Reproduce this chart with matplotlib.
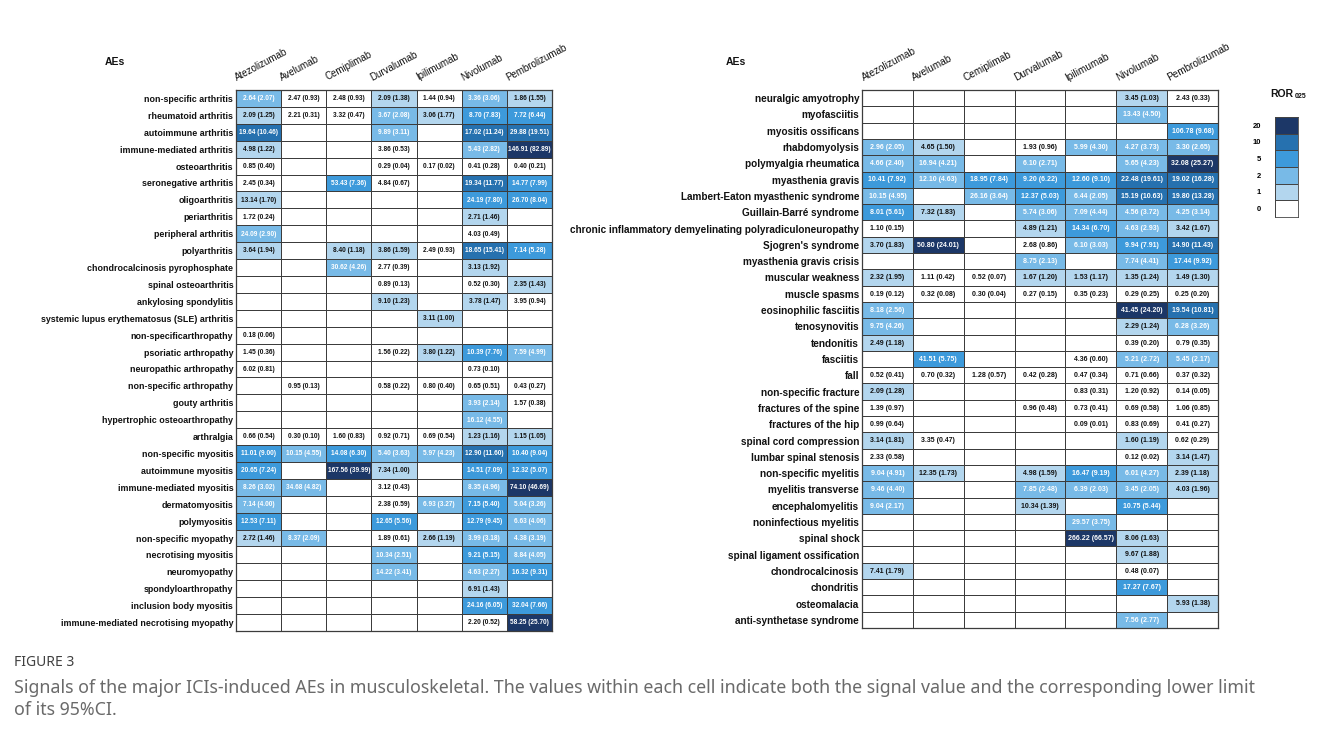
import numpy as np
import matplotlib
matplotlib.use("Agg")
import matplotlib.pyplot as plt
from matplotlib.colors import ListedColormap, BoundaryNorm

plt.rcParams['font.family'] = ['Liberation Sans', 'DejaVu Sans']

N = np.nan

drugs = ['Atezolizumab', 'Avelumab', 'Cemiplimab', 'Durvalumab',
         'Ipilimumab', 'Nivolumab', 'Pembrolizumab']

# ---- left panel: arthritis / myositis ----
left_aes = [
    'non-specific arthritis', 'rheumatoid arthritis', 'autoimmune arthritis',
    'immune-mediated arthritis', 'osteoarthritis', 'seronegative arthritis',
    'oligoarthritis', 'periarthritis', 'peripheral arthritis', 'polyarthritis',
    'chondrocalcinosis pyrophosphate', 'spinal osteoarthritis',
    'ankylosing spondylitis', 'systemic lupus erythematosus (SLE) arthritis',
    'non-specificarthropathy', 'psoriatic arthropathy', 'neuropathic arthropathy',
    'non-specific arthropathy', 'gouty arthritis', 'hypertrophic osteoarthropathy',
    'arthralgia', 'non-specific myositis', 'autoimmune myositis',
    'immune-mediated myositis', 'dermatomyositis', 'polymyositis',
    'non-specific myopathy', 'necrotising myositis', 'neuromyopathy',
    'spondyloarthropathy', 'inclusion body myositis',
    'immune-mediated necrotising myopathy',
]

left_ror = [
    [2.64, 2.47, 2.48, 2.09, 1.44, 3.36, 1.86],
    [2.09, 2.21, 3.32, 3.67, 3.06, 8.70, 7.72],
    [19.64, N, N, 9.89, N, 17.02, 29.88],
    [4.98, N, N, 3.86, N, 5.43, 146.91],
    [0.85, N, N, 0.29, 0.17, 0.41, 0.40],
    [2.45, N, 53.43, 4.84, N, 19.34, 14.77],
    [13.14, N, N, N, N, 24.19, 26.70],
    [1.72, N, N, N, N, 2.71, N],
    [24.09, N, N, N, N, 4.03, N],
    [3.64, N, 8.40, 3.86, 2.49, 18.65, 7.14],
    [N, N, 30.62, 2.77, N, 3.13, N],
    [N, N, N, 0.89, N, 0.52, 2.35],
    [N, N, N, 9.10, N, 3.78, 3.95],
    [N, N, N, N, 3.11, N, N],
    [0.18, N, N, N, N, N, N],
    [1.45, N, N, 1.56, 3.80, 10.39, 7.59],
    [6.02, N, N, N, N, 0.73, N],
    [N, 0.95, N, 0.58, 0.80, 0.65, 0.43],
    [N, N, N, N, N, 3.93, 1.57],
    [N, N, N, N, N, 16.12, N],
    [0.66, 0.30, 1.60, 0.92, 0.69, 1.23, 1.15],
    [11.01, 10.15, 14.08, 5.40, 5.97, 12.90, 10.40],
    [20.65, N, 167.56, 7.34, N, 14.51, 12.32],
    [8.26, 34.68, N, 3.12, N, 8.35, 74.10],
    [7.14, N, N, 2.38, 6.93, 7.15, 5.04],
    [12.53, N, N, 12.65, N, 12.79, 6.63],
    [2.72, 8.37, N, 1.89, 2.66, 3.99, 4.38],
    [N, N, N, 10.34, N, 9.21, 8.84],
    [N, N, N, 14.22, N, 4.63, 16.32],
    [N, N, N, N, N, 6.91, N],
    [N, N, N, N, N, 24.16, 32.04],
    [N, N, N, N, N, 2.20, 58.25],
]

left_low = [
    [2.07, 0.93, 0.93, 1.38, 0.94, 3.06, 1.55],
    [1.25, 0.31, 0.47, 2.08, 1.77, 7.83, 6.44],
    [10.46, N, N, 3.11, N, 11.24, 19.51],
    [1.22, N, N, 0.53, N, 2.82, 82.89],
    [0.40, N, N, 0.04, 0.02, 0.28, 0.21],
    [0.34, N, 7.36, 0.67, N, 11.77, 7.99],
    [1.70, N, N, N, N, 7.80, 8.04],
    [0.24, N, N, N, N, 1.46, N],
    [2.90, N, N, N, N, 0.49, N],
    [1.94, N, 1.18, 1.59, 0.93, 15.41, 5.28],
    [N, N, 4.26, 0.39, N, 1.92, N],
    [N, N, N, 0.13, N, 0.30, 1.43],
    [N, N, N, 1.23, N, 1.47, 0.94],
    [N, N, N, N, 1.00, N, N],
    [0.06, N, N, N, N, N, N],
    [0.36, N, N, 0.22, 1.22, 7.76, 4.99],
    [0.81, N, N, N, N, 0.10, N],
    [N, 0.13, N, 0.22, 0.40, 0.51, 0.27],
    [N, N, N, N, N, 2.14, 0.38],
    [N, N, N, N, N, 4.55, N],
    [0.54, 0.10, 0.83, 0.71, 0.54, 1.16, 1.05],
    [9.00, 4.55, 6.30, 3.63, 4.23, 11.60, 9.04],
    [7.24, N, 39.99, 1.00, N, 7.09, 5.07],
    [3.02, 4.82, N, 0.43, N, 4.96, 46.69],
    [4.00, N, N, 0.59, 3.27, 5.40, 3.26],
    [7.11, N, N, 5.56, N, 9.45, 4.06],
    [1.46, 2.09, N, 0.61, 1.19, 3.18, 3.19],
    [N, N, N, 2.51, N, 5.15, 4.05],
    [N, N, N, 3.41, N, 2.27, 9.31],
    [N, N, N, N, N, 1.43, N],
    [N, N, N, N, N, 6.05, 7.66],
    [N, N, N, N, N, 0.52, 25.70],
]

# ---- right panel: neuromuscular / bone / spinal ----
right_aes = [
    'neuralgic amyotrophy', 'myofasciitis', 'myositis ossificans',
    'rhabdomyolysis', 'polymyalgia rheumatica', 'myasthenia gravis',
    'Lambert-Eaton myasthenic syndrome', 'Guillain-Barré syndrome',
    'chronic inflammatory demyelinating polyradiculoneuropathy',
    "Sjogren's syndrome", 'myasthenia gravis crisis', 'muscular weakness',
    'muscle spasms', 'eosinophilic fasciitis', 'tenosynovitis', 'tendonitis',
    'fasciitis', 'fall', 'non-specific fracture', 'fractures of the spine',
    'fractures of the hip', 'spinal cord compression', 'lumbar spinal stenosis',
    'non-specific myelitis', 'myelitis transverse', 'encephalomyelitis',
    'noninfectious myelitis', 'spinal shock', 'spinal ligament ossification',
    'chondrocalcinosis', 'chondritis', 'osteomalacia', 'anti-synthetase syndrome',
]

right_ror = [
    [N, N, N, N, N, 3.45, 2.43],
    [N, N, N, N, N, 13.43, N],
    [N, N, N, N, N, N, 106.78],
    [2.96, 4.65, N, 1.93, 5.99, 4.27, 3.30],
    [4.66, 16.94, N, 6.10, N, 5.65, 32.08],
    [10.41, 12.10, 18.95, 9.20, 12.60, 22.48, 19.02],
    [10.15, N, 26.16, 12.37, 6.44, 15.19, 19.80],
    [8.01, 7.32, N, 5.74, 7.09, 4.56, 4.25],
    [1.10, N, N, 4.89, 14.34, 4.63, 3.42],
    [3.70, 50.80, N, 2.68, 6.10, 9.94, 14.90],
    [N, N, N, 8.75, N, 7.74, 17.44],
    [2.32, 1.11, 0.52, 1.67, 1.53, 1.35, 1.49],
    [0.19, 0.32, 0.30, 0.27, 0.35, 0.29, 0.25],
    [8.18, N, N, N, N, 41.45, 19.54],
    [9.75, N, N, N, N, 2.29, 6.28],
    [2.49, N, N, N, N, 0.39, 0.79],
    [N, 41.51, N, N, 4.36, 5.21, 5.45],
    [0.52, 0.70, 1.28, 0.42, 0.47, 0.71, 0.37],
    [2.09, N, N, N, 0.83, 1.20, 0.14],
    [1.39, N, N, 0.96, 0.73, 0.69, 1.06],
    [0.99, N, N, N, 0.09, 0.83, 0.41],
    [3.14, 3.35, N, N, N, 1.60, 0.62],
    [2.33, N, N, N, N, 0.12, 3.14],
    [9.04, 12.35, N, 4.98, 16.47, 6.01, 2.39],
    [9.46, N, N, 7.85, 6.39, 3.45, 4.03],
    [9.04, N, N, 10.34, N, 10.75, N],
    [N, N, N, N, 29.57, N, N],
    [N, N, N, N, 266.22, 8.06, N],
    [N, N, N, N, N, 9.67, N],
    [7.41, N, N, N, N, 0.48, N],
    [N, N, N, N, N, 17.27, N],
    [N, N, N, N, N, N, 5.93],
    [N, N, N, N, N, 7.56, N],
]

right_low = [
    [N, N, N, N, N, 1.03, 0.33],
    [N, N, N, N, N, 4.50, N],
    [N, N, N, N, N, N, 9.68],
    [2.05, 1.50, N, 0.96, 4.30, 3.73, 2.65],
    [2.40, 4.21, N, 2.71, N, 4.23, 25.27],
    [7.92, 4.63, 7.84, 6.22, 9.10, 19.61, 16.28],
    [4.95, N, 3.64, 5.03, 2.05, 10.63, 13.28],
    [5.61, 1.83, N, 3.06, 4.44, 3.72, 3.14],
    [0.15, N, N, 1.21, 6.70, 2.93, 1.67],
    [1.83, 24.01, N, 0.86, 3.03, 7.91, 11.43],
    [N, N, N, 2.13, N, 4.41, 9.92],
    [1.95, 0.42, 0.07, 1.20, 1.17, 1.24, 1.30],
    [0.12, 0.08, 0.04, 0.15, 0.23, 0.25, 0.20],
    [2.56, N, N, N, N, 24.20, 10.81],
    [4.26, N, N, N, N, 1.24, 3.26],
    [1.18, N, N, N, N, 0.20, 0.35],
    [N, 5.75, N, N, 0.60, 2.72, 2.17],
    [0.41, 0.32, 0.57, 0.28, 0.34, 0.66, 0.32],
    [1.28, N, N, N, 0.31, 0.92, 0.05],
    [0.97, N, N, 0.48, 0.41, 0.58, 0.85],
    [0.64, N, N, N, 0.01, 0.69, 0.27],
    [1.81, 0.47, N, N, N, 1.19, 0.29],
    [0.58, N, N, N, N, 0.02, 1.47],
    [4.91, 1.73, N, 1.59, 9.19, 4.27, 1.18],
    [4.40, N, N, 2.48, 2.03, 2.05, 1.96],
    [2.17, N, N, 1.39, N, 5.44, N],
    [N, N, N, N, 3.75, N, N],
    [N, N, N, N, 66.57, 1.63, N],
    [N, N, N, N, N, 1.88, N],
    [1.79, N, N, N, N, 0.07, N],
    [N, N, N, N, N, 7.67, N],
    [N, N, N, N, N, N, 1.38],
    [N, N, N, N, N, 2.77, N],
]

# colour bins on the lower 95% CI limit (ROR025)
bin_edges = [0, 1, 2, 5, 10, 20, 1e4]
bin_colors = ['#ffffff', '#b3d6ee', '#78bae7', '#3d9adb', '#2671af', '#1c3767']
bin_labels = ['0', '1', '2', '5', '10', '20']
cmap = ListedColormap(bin_colors)
norm = BoundaryNorm(bin_edges, cmap.N)

W, H = 1322, 749
fig = plt.figure(figsize=(W / 100, H / 100), dpi=100)


def px_axes(x0, y0, x1, y1):
    return fig.add_axes([x0 / W, 1 - y1 / H, (x1 - x0) / W, (y1 - y0) / H])


def draw_table(ax, aes, ror, low, cell_fs, label_fs, head_fs):
    ror = np.array(ror, dtype=float)
    low = np.array(low, dtype=float)
    nrow, ncol = ror.shape
    shade = np.nan_to_num(low, nan=0.0)
    ax.pcolormesh(np.arange(ncol + 1), np.arange(nrow + 1), shade,
                  cmap=cmap, norm=norm, edgecolors='#3c3c3c', linewidth=0.7)
    ax.set_xlim(0, ncol)
    ax.set_ylim(nrow, 0)
    for i in range(nrow):
        for j in range(ncol):
            if np.isnan(ror[i, j]):
                continue
            col = 'white' if low[i, j] >= 2 else '#111111'
            ax.text(j + 0.5, i + 0.52, f'{ror[i, j]:.2f} ({low[i, j]:.2f})',
                    ha='center', va='center', fontsize=cell_fs,
                    fontweight='bold', color=col)
    ax.set_yticks(np.arange(nrow) + 0.5)
    ax.set_yticklabels(aes, fontsize=label_fs, fontweight='bold', color='#111111')
    ax.set_xticks([])
    ax.tick_params(axis='y', length=0, pad=2)
    for j, d in enumerate(drugs):
        ax.text(j + 0.05, -0.45, d, rotation=28, rotation_mode='anchor',
                ha='left', va='bottom', fontsize=head_fs, color='#111111')
    for s in ax.spines.values():
        s.set_color('#3c3c3c')
        s.set_linewidth(0.9)


ax_l = px_axes(236, 90, 552, 631)
draw_table(ax_l, left_aes, left_ror, left_low, 4.7, 6.4, 7.0)
ax_r = px_axes(862, 90, 1218, 628)
draw_table(ax_r, right_aes, right_ror, right_low, 5.0, 7.2, 7.2)

fig.text(115 / W, 1 - 62 / H, 'AEs', fontsize=7.5, fontweight='bold',
         ha='center', va='center', color='#111111')
fig.text(736 / W, 1 - 62 / H, 'AEs', fontsize=7.5, fontweight='bold',
         ha='center', va='center', color='#111111')

# binned colour key
ax_k = px_axes(1275, 117, 1298, 217)
key = np.arange(len(bin_colors))[::-1].reshape(-1, 1)
ax_k.pcolormesh([0, 1], np.arange(len(bin_colors) + 1), key,
                cmap=cmap, vmin=-0.5, vmax=len(bin_colors) - 0.5,
                edgecolors='#444444', linewidth=0.6)
ax_k.set_xlim(0, 1)
ax_k.set_ylim(len(bin_colors), 0)
ax_k.set_xticks([])
ax_k.set_yticks(np.arange(len(bin_colors)) + 0.5)
ax_k.set_yticklabels(bin_labels[::-1], fontsize=5.5, fontweight='bold')
ax_k.tick_params(axis='y', length=0, pad=10)
for s in ax_k.spines.values():
    s.set_color('#444444')
    s.set_linewidth(0.6)
fig.text(1270 / W, 1 - 94 / H, 'ROR', fontsize=7.5, fontweight='bold',
         ha='left', va='center', color='#111111')
fig.text(1295 / W, 1 - 96 / H, '025', fontsize=5, fontweight='bold',
         ha='left', va='center', color='#111111')

# caption
cap_font = ['Noto Sans', 'DejaVu Sans']
fig.text(14 / W, 1 - 662 / H, 'FIGURE 3', fontsize=10, family=cap_font,
         ha='left', va='center', color='#404040')
fig.text(14 / W, 1 - 688 / H,
         'Signals of the major ICIs-induced AEs in musculoskeletal. The values '
         'within each cell indicate both the signal value and the corresponding '
         'lower limit', fontsize=12.8, family=cap_font, ha='left', va='center',
         color='#6a6a6a')
fig.text(14 / W, 1 - 710 / H, 'of its 95%CI.', fontsize=12.8, family=cap_font,
         ha='left', va='center', color='#6a6a6a')

fig.savefig('out.png', dpi=100, facecolor='white')
